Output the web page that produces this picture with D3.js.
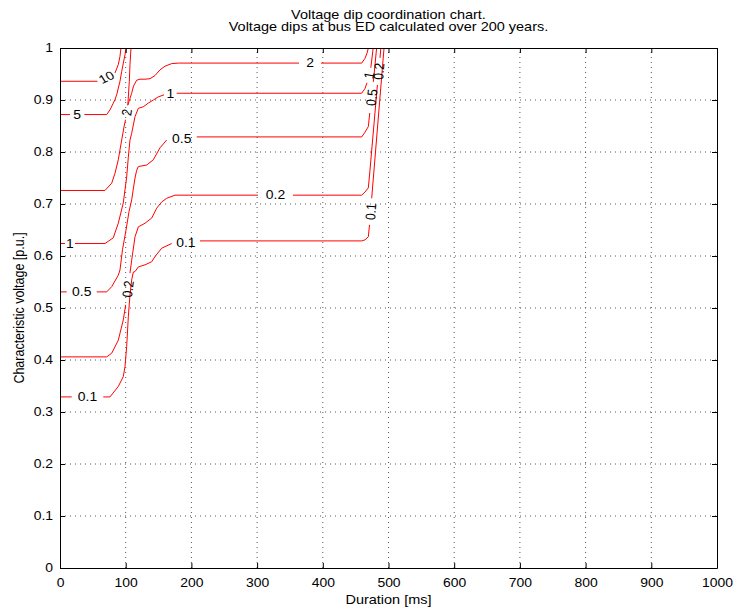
<!DOCTYPE html>
<html>
<head>
<meta charset="utf-8">
<script src="https://cdn.jsdelivr.net/npm/d3@7"></script>
<style>
  body { margin: 0; background: #fff; }
  svg text { font-family: "Liberation Sans", Arial, Helvetica, sans-serif; fill: #000; }
</style>
</head>
<body>
<svg id="chart" width="737" height="610"></svg>
<script>
// ---- chart text ----
const titleLines = [
  "Voltage dip coordination chart.",
  "Voltage dips at bus ED calculated over 200 years."
];
const xAxisTitle = "Duration [ms]";
const yAxisTitle = "Characteristic voltage [p.u.]";

// ---- axes ----
const xTicks = [0, 100, 200, 300, 400, 500, 600, 700, 800, 900, 1000];
const yTicks = [0, 0.1, 0.2, 0.3, 0.4, 0.5, 0.6, 0.7, 0.8, 0.9, 1];
const yTickLabels = ["0", "0.1", "0.2", "0.3", "0.4", "0.5", "0.6", "0.7", "0.8", "0.9", "1"];

// ---- contour lines: [duration ms, voltage p.u.] ----
// Each level is a list of pieces; each piece is a list of runs.
// A level label sits in the gap between two consecutive runs of a piece.
const level10 = [
  [
    [[0, 0.936], [57.1, 0.936]],
    [[83.7, 0.952], [88.7, 0.968], [91.3, 0.984], [92.8, 1.0]]
  ]
];
const level5 = [
  [
    [[0, 0.872], [15.2, 0.872]],
    [[37.0, 0.872], [71.1, 0.872], [76.1, 0.881], [81.1, 0.894], [83.7, 0.901], [86.3, 0.910],
     [91.3, 0.936], [93.9, 0.955], [98.9, 0.987], [100.5, 1.0]]
  ]
];
const level2 = [
  [
    [[0, 0.726], [68.5, 0.726], [78.7, 0.740], [83.7, 0.759], [88.7, 0.785], [91.3, 0.804],
     [93.9, 0.823], [97.4, 0.848], [99.7, 0.862]],
    [[103.2, 0.890], [106.5, 0.903], [109.1, 0.913], [111.9, 0.927], [116.7, 0.938], [121.8, 0.940],
     [129.4, 0.940], [137.0, 0.941], [144.6, 0.947], [152.2, 0.958], [159.8, 0.965], [170.0, 0.970],
     [180.1, 0.971], [363.8, 0.971]],
    [[397.3, 0.971], [459.2, 0.971], [464.2, 0.980], [467.3, 0.990], [469.3, 1.0]]
  ],
  [
    [[103.2, 0.890], [105.5, 0.936], [106.5, 0.968], [108.1, 1.0]]
  ]
];
const level1 = [
  [
    [[0, 0.624], [7.6, 0.624]],
    [[22.8, 0.624], [68.5, 0.624], [81.1, 0.635], [88.7, 0.663], [96.3, 0.702], [101.5, 0.752],
     [104.0, 0.790], [106.5, 0.823], [109.1, 0.836], [114.2, 0.868], [119.2, 0.884], [126.8, 0.887],
     [134.4, 0.894], [142.0, 0.900], [149.6, 0.906], [158.3, 0.910]],
    [[177.6, 0.913], [459.2, 0.913], [464.2, 0.922], [467.3, 0.933]],
    [[473.1, 0.962], [476.7, 1.0]]
  ]
];
const level05 = [
  [
    [[0, 0.531], [10.2, 0.531]],
    [[55.9, 0.531], [71.1, 0.531], [78.7, 0.541], [88.7, 0.563], [91.3, 0.573], [95.1, 0.612],
     [100.5, 0.650], [105.0, 0.685], [109.1, 0.708], [111.6, 0.729], [114.2, 0.750], [116.7, 0.765],
     [119.2, 0.772], [132.0, 0.775], [142.0, 0.785], [152.2, 0.808], [162.4, 0.823]],
    [[208.1, 0.829], [459.2, 0.829], [464.2, 0.838], [469.3, 0.849], [471.5, 0.875]],
    [[477.0, 0.935], [481.9, 1.0]]
  ]
];
const level02 = [
  [
    [[0, 0.406], [71.1, 0.406], [78.7, 0.413], [88.7, 0.438], [96.3, 0.477], [100.0, 0.506]],
    [[106.5, 0.567], [109.1, 0.592], [114.2, 0.637], [119.2, 0.656], [129.4, 0.663], [139.6, 0.673],
     [147.2, 0.692], [154.8, 0.704], [162.4, 0.711], [175.0, 0.717], [301.4, 0.717]],
    [[354.6, 0.717], [459.2, 0.717], [464.2, 0.723], [469.3, 0.731], [471.8, 0.765], [483.1, 0.929]],
    [[487.1, 0.981], [488.3, 1.0]]
  ]
];
const level01 = [
  [
    [[0, 0.329], [17.8, 0.329]],
    [[65.9, 0.329], [76.1, 0.329], [88.7, 0.349], [96.3, 0.368], [98.9, 0.387], [101.5, 0.426],
     [104.0, 0.483], [106.5, 0.525], [109.1, 0.554], [111.6, 0.569], [114.2, 0.570], [119.2, 0.579],
     [129.4, 0.583], [139.6, 0.589], [144.6, 0.599], [154.8, 0.615], [170.0, 0.624]],
    [[213.1, 0.629], [459.2, 0.629], [464.2, 0.631], [469.3, 0.637], [471.1, 0.660]],
    [[474.4, 0.711], [493.2, 1.0]]
  ]
];

const contourLevels = [
  { level: "10", pieces: level10 },
  { level: "5", pieces: level5 },
  { level: "2", pieces: level2 },
  { level: "1", pieces: level1 },
  { level: "0.5", pieces: level05 },
  { level: "0.2", pieces: level02 },
  { level: "0.1", pieces: level01 }
];

// ---- drawing ----
const SX = 1.16;           // lettering is drawn slightly wide
const FONT = 12;
const TITLE_FONT = 12.5;
const svg = d3.select("#chart");
const plot = { left: 60, right: 717, top: 48, bottom: 568 };

const x = d3.scaleLinear().domain([0, 1000]).range([plot.left, plot.right]);
const y = d3.scaleLinear().domain([0, 1]).range([plot.bottom, plot.top]);

// dotted grid
const grid = svg.append("g").attr("stroke", "#555").attr("stroke-width", 1)
  .attr("stroke-dasharray", "1,4");
grid.selectAll("line.gx").data(xTicks.slice(1, -1)).join("line").attr("class", "gx")
  .attr("x1", d => x(d)).attr("x2", d => x(d))
  .attr("y1", plot.bottom).attr("y2", plot.top);
grid.selectAll("line.gy").data(yTicks.slice(1, -1)).join("line").attr("class", "gy")
  .attr("y1", d => y(d)).attr("y2", d => y(d))
  .attr("x1", plot.left).attr("x2", plot.right);

// contour lines
const line = d3.line().x(d => x(d[0])).y(d => y(d[1]));
const lines = svg.append("g").attr("fill", "none").attr("stroke", "#ff0000").attr("stroke-width", 1);
const labels = svg.append("g").attr("font-size", FONT).attr("text-anchor", "middle");

contourLevels.forEach(c => {
  c.pieces.forEach(runs => {
    runs.forEach(run => lines.append("path").attr("d", line(run)));
    for (let i = 0; i < runs.length - 1; i++) {
      const a = runs[i][runs[i].length - 1];
      const b = runs[i + 1][0];
      const ax = x(a[0]), ay = y(a[1]), bx = x(b[0]), by = y(b[1]);
      let ang = Math.atan2(by - ay, bx - ax) * 180 / Math.PI;
      if (ang > 90) ang -= 180;
      if (ang < -90) ang += 180;
      if (Math.abs(ang) < 12) ang = 0;
      const r = Math.atan(SX * Math.tan(ang * Math.PI / 180)) * 180 / Math.PI;
      labels.append("text")
        .attr("transform", `translate(${(ax + bx) / 2},${(ay + by) / 2}) scale(${SX},1) rotate(${r})`)
        .attr("dy", "0.36em")
        .text(c.level);
    }
  });
});

// axes: ticks point inward on all four sides
function styleAxis(g) {
  g.attr("font-family", null).attr("font-size", FONT);
  g.select(".domain").attr("stroke", "#000");
  g.selectAll(".tick line").attr("stroke", "#000");
  g.selectAll(".tick text").each(function () {
    const t = d3.select(this);
    const tx = +t.attr("x") || 0, ty = +t.attr("y") || 0;
    t.attr("x", null).attr("y", null)
      .attr("transform", `translate(${tx},${ty}) scale(${SX},1)`);
  });
}
svg.append("g").attr("transform", `translate(0,${plot.bottom})`)
  .call(d3.axisBottom(x).tickValues(xTicks).tickFormat(d3.format("d"))
    .tickSizeInner(-5).tickSizeOuter(0).tickPadding(10))
  .call(styleAxis);
svg.append("g").attr("transform", `translate(0,${plot.top})`)
  .call(d3.axisTop(x).tickValues(xTicks).tickFormat("").tickSizeInner(-5).tickSizeOuter(0))
  .call(styleAxis);
svg.append("g").attr("transform", `translate(${plot.left},0)`)
  .call(d3.axisLeft(y).tickValues(yTicks).tickFormat((d, i) => yTickLabels[i])
    .tickSizeInner(-5).tickSizeOuter(0).tickPadding(7))
  .call(styleAxis);
svg.append("g").attr("transform", `translate(${plot.right},0)`)
  .call(d3.axisRight(y).tickValues(yTicks).tickFormat("").tickSizeInner(-5).tickSizeOuter(0))
  .call(styleAxis);

// titles
const tg = svg.append("g").attr("font-size", TITLE_FONT).attr("text-anchor", "middle");
titleLines.forEach((t, i) => {
  tg.append("text")
    .attr("transform", `translate(${(plot.left + plot.right) / 2},${18.5 + i * 12.5}) scale(${SX},1)`)
    .text(t);
});
tg.append("text")
  .attr("transform", `translate(${(plot.left + plot.right) / 2},604) scale(${SX},1)`)
  .text(xAxisTitle);
tg.append("text")
  .attr("transform", `translate(24,${(plot.top + plot.bottom) / 2}) scale(${SX},1) rotate(-90)`)
  .text(yAxisTitle);
</script>
</body>
</html>
